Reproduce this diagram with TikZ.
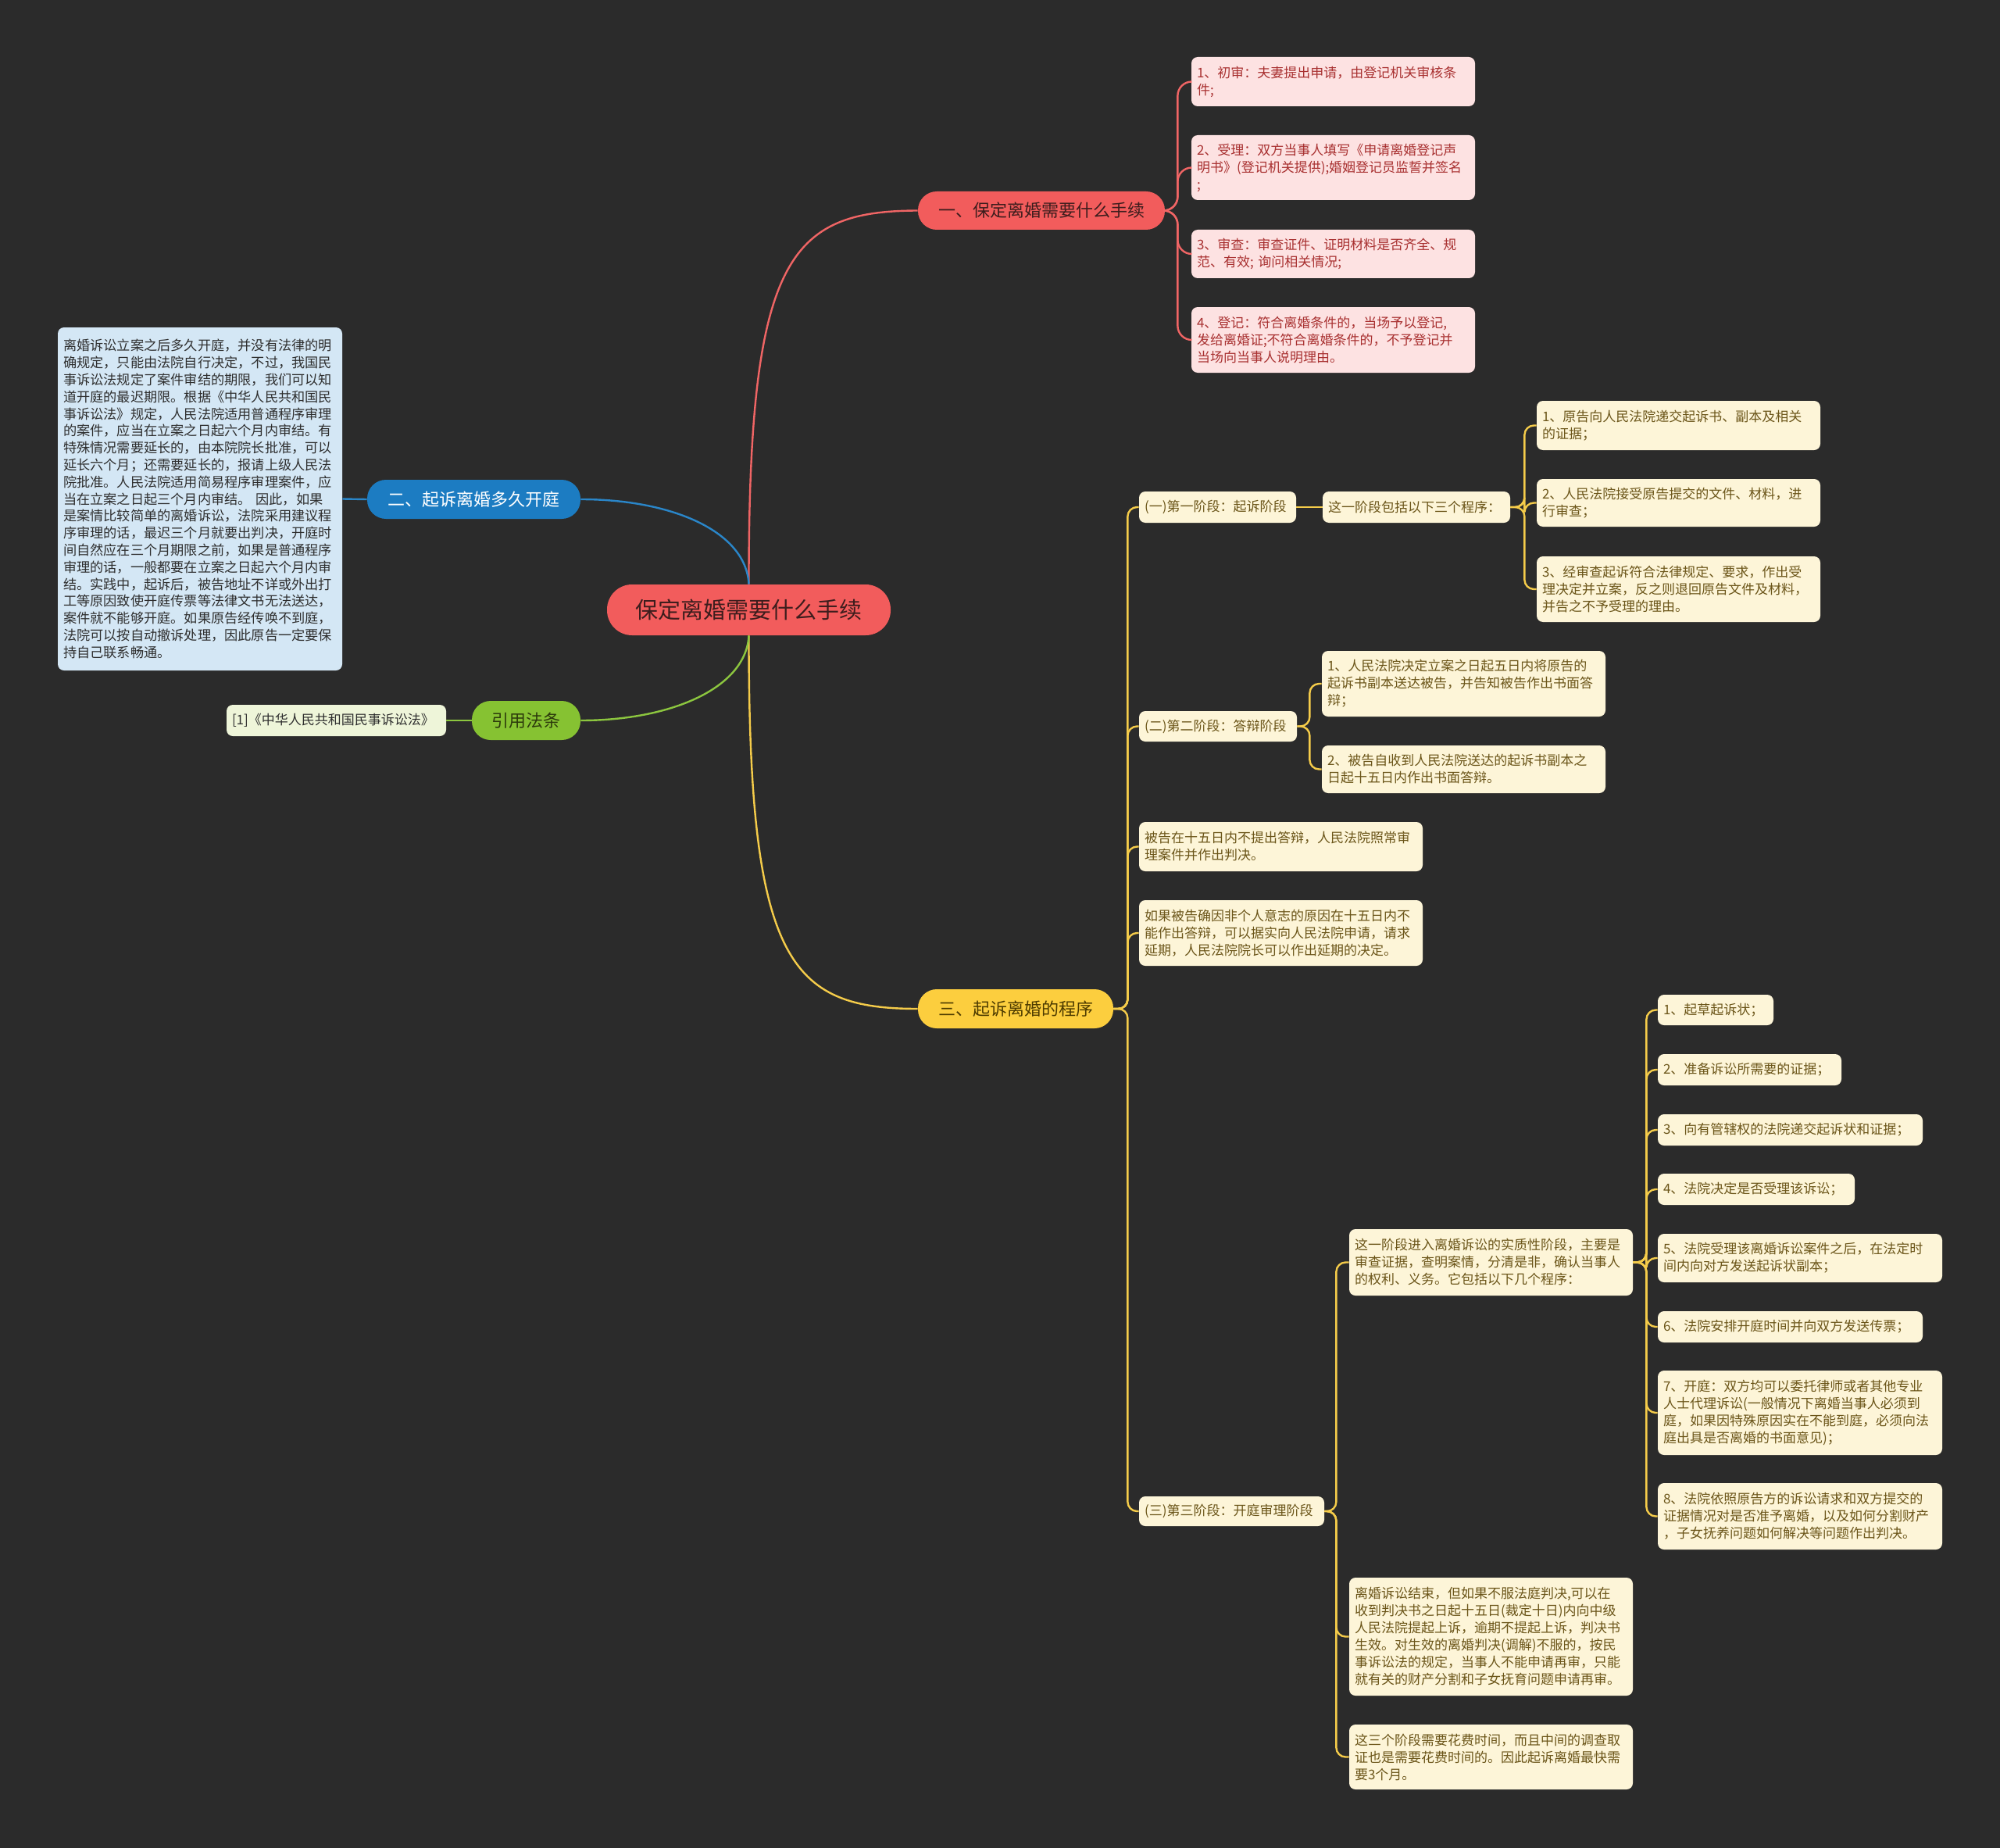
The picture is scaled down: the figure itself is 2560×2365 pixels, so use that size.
\documentclass[tikz,border=0pt]{standalone}
\usepackage{fontspec}
\setmainfont{Noto Sans CJK SC}
\setlength{\parindent}{0pt}
\definecolor{bgc}{HTML}{2B2B2B}
\definecolor{redc}{HTML}{F25C5C}
\definecolor{redl}{HTML}{F06565}
\definecolor{roottx}{HTML}{3D1D1D}
\definecolor{pinkc}{HTML}{FDE2E2}
\definecolor{pinktx}{HTML}{A83030}
\definecolor{bluec}{HTML}{1C7CC2}
\definecolor{bluel}{HTML}{2A86C9}
\definecolor{lbluec}{HTML}{D4E7F5}
\definecolor{darktx}{HTML}{2E2E2E}
\definecolor{greenc}{HTML}{86C232}
\definecolor{greenl}{HTML}{8CC63F}
\definecolor{greentx}{HTML}{2D3B0C}
\definecolor{lgreenc}{HTML}{EEF5D9}
\definecolor{yelc}{HTML}{FCCE3E}
\definecolor{yell}{HTML}{F5CC4A}
\definecolor{yeltx}{HTML}{4D3B00}
\definecolor{creamc}{HTML}{FDF5D8}
\definecolor{creamtx}{HTML}{6B5519}
\tikzset{
  pill/.style={inner xsep=0pt, inner ysep=0pt, align=center, font=\fontsize{11pt}{13pt}\selectfont},
  sbox/.style={rounded corners=4pt, inner xsep=3.5pt, inner ysep=0pt, align=left, font=\fontsize{8.5pt}{11pt}\selectfont},
  rootnode/.style={pill, rounded corners=16pt, fill=redc, text=roottx, font=\fontsize{14.5pt}{16pt}\selectfont},
  redpill/.style={pill, rounded corners=12pt, fill=redc, text=roottx},
  bluepill/.style={pill, rounded corners=12pt, fill=bluec, text=white},
  greenpill/.style={pill, rounded corners=12pt, fill=greenc, text=greentx},
  yelpill/.style={pill, rounded corners=12pt, fill=yelc, text=yeltx},
  pinkbox/.style={sbox, fill=pinkc, text=pinktx},
  bluebox/.style={sbox, fill=lbluec, text=darktx, font=\fontsize{8.6pt}{10.9pt}\selectfont},
  greenbox/.style={sbox, fill=lgreenc, text=darktx},
  creambox/.style={sbox, fill=creamc, text=creamtx},
  redline/.style={draw=redl, line width=1.2pt},
  blueline/.style={draw=bluel, line width=1.2pt},
  greenline/.style={draw=greenl, line width=1.2pt},
  yelline/.style={draw=yell, line width=1.2pt},
}
\newcommand\bx[7]{%
  \pgfmathsetmacro\bxw{(#5-#3)*0.5}%
  \pgfmathsetmacro\bxh{(#6-#4)*0.5}%
  \pgfmathsetmacro\bxt{(#5-#3)*0.5-7}%
  \pgfmathsetmacro\bxx{(#3+#5)/2}%
  \pgfmathsetmacro\bxy{(#4+#6)/2}%
  \node[#2, minimum width=\bxw pt, minimum height=\bxh pt, text width=\bxt pt] (#1) at (\bxx,\bxy) {#7};%
}
\begin{document}
\begin{tikzpicture}[x=0.5pt,y=-0.5pt]
\fill[bgc] (0,0) rectangle (2560,2365);
\useasboundingbox (0,0) rectangle (2560,2365);

% root and main branches
\bx{root}{rootnode}{777}{748}{1140}{813}{保定离婚需要什么手续}
\bx{B1}{redpill}{1175}{245}{1491}{294}{一、保定离婚需要什么手续}
\bx{B2}{bluepill}{470}{614}{743}{664}{二、起诉离婚多久开庭}
\bx{G}{greenpill}{604}{897}{743}{947}{引用法条}
\bx{B3}{yelpill}{1175}{1266}{1425}{1316}{三、起诉离婚的程序}

% branch 1 children
\bx{R1}{pinkbox}{1525}{73}{1888}{136}{1、初审：夫妻提出申请，由登记机关审核条\\件;}
\bx{R2}{pinkbox}{1525}{173}{1888}{256}{2、受理：双方当事人填写《申请离婚登记声\\明书》(登记机关提供);婚姻登记员监誓并签名\\;}
\bx{R3}{pinkbox}{1525}{294}{1888}{356}{3、审查：审查证件、证明材料是否齐全、规\\范、有效; 询问相关情况;}
\bx{R4}{pinkbox}{1525}{393}{1888}{477}{4、登记：符合离婚条件的，当场予以登记,\\发给离婚证;不符合离婚条件的，不予登记并\\当场向当事人说明理由。}

% branch 2 child
\bx{BT}{bluebox}{74}{419}{438}{858}{离婚诉讼立案之后多久开庭，并没有法律的明\\确规定，只能由法院自行决定，不过，我国民\\事诉讼法规定了案件审结的期限，我们可以知\\道开庭的最迟期限。根据《中华人民共和国民\\事诉讼法》规定，人民法院适用普通程序审理\\的案件，应当在立案之日起六个月内审结。有\\特殊情况需要延长的，由本院院长批准，可以\\延长六个月；还需要延长的，报请上级人民法\\院批准。人民法院适用简易程序审理案件，应\\当在立案之日起三个月内审结。 因此，如果\\是案情比较简单的离婚诉讼，法院采用建议程\\序审理的话，最迟三个月就要出判决，开庭时\\间自然应在三个月期限之前，如果是普通程序\\审理的话，一般都要在立案之日起六个月内审\\结。实践中，起诉后，被告地址不详或外出打\\工等原因致使开庭传票等法律文书无法送达，\\案件就不能够开庭。如果原告经传唤不到庭，\\法院可以按自动撤诉处理，因此原告一定要保\\持自己联系畅通。}

% green child
\bx{GT}{greenbox}{290}{902}{571}{942}{[1]《中华人民共和国民事诉讼法》}

% branch 3
\bx{S1}{creambox}{1458}{629}{1659}{669}{(一)第一阶段：起诉阶段}
\bx{S1a}{creambox}{1693}{629}{1933}{669}{这一阶段包括以下三个程序：}
\bx{S1a1}{creambox}{1967}{513}{2330}{576}{1、原告向人民法院递交起诉书、副本及相关\\的证据；}
\bx{S1a2}{creambox}{1967}{613}{2330}{674}{2、人民法院接受原告提交的文件、材料，进\\行审查；}
\bx{S1a3}{creambox}{1967}{712}{2330}{796}{3、经审查起诉符合法律规定、要求，作出受\\理决定并立案，反之则退回原告文件及材料，\\并告之不予受理的理由。}

\bx{S2}{creambox}{1458}{910}{1660}{949}{(二)第二阶段：答辩阶段}
\bx{S2a}{creambox}{1692}{833}{2055}{917}{1、人民法院决定立案之日起五日内将原告的\\起诉书副本送达被告，并告知被告作出书面答\\辩；}
\bx{S2b}{creambox}{1692}{954}{2055}{1015}{2、被告自收到人民法院送达的起诉书副本之\\日起十五日内作出书面答辩。}

\bx{N1}{creambox}{1458}{1052}{1821}{1115}{被告在十五日内不提出答辩，人民法院照常审\\理案件并作出判决。}
\bx{N2}{creambox}{1458}{1152}{1821}{1236}{如果被告确因非个人意志的原因在十五日内不\\能作出答辩，可以据实向人民法院申请，请求\\延期，人民法院院长可以作出延期的决定。}

\bx{S3}{creambox}{1458}{1915}{1695}{1953}{(三)第三阶段：开庭审理阶段}
\bx{I0}{creambox}{1727}{1573}{2090}{1658}{这一阶段进入离婚诉讼的实质性阶段，主要是\\审查证据，查明案情，分清是非，确认当事人\\的权利、义务。它包括以下几个程序：}
\bx{I1}{creambox}{2122}{1273}{2270}{1312}{1、起草起诉状；}
\bx{I2}{creambox}{2122}{1349}{2357}{1389}{2、准备诉讼所需要的证据；}
\bx{I3}{creambox}{2122}{1426}{2461}{1466}{3、向有管辖权的法院递交起诉状和证据；}
\bx{I4}{creambox}{2122}{1502}{2374}{1542}{4、法院决定是否受理该诉讼；}
\bx{I5}{creambox}{2122}{1579}{2486}{1641}{5、法院受理该离婚诉讼案件之后，在法定时\\间内向对方发送起诉状副本；}
\bx{I6}{creambox}{2122}{1678}{2461}{1718}{6、法院安排开庭时间并向双方发送传票；}
\bx{I7}{creambox}{2122}{1754}{2486}{1862}{7、开庭：双方均可以委托律师或者其他专业\\人士代理诉讼(一般情况下离婚当事人必须到\\庭，如果因特殊原因实在不能到庭，必须向法\\庭出具是否离婚的书面意见)；}
\bx{I8}{creambox}{2122}{1898}{2486}{1983}{8、法院依照原告方的诉讼请求和双方提交的\\证据情况对是否准予离婚，以及如何分割财产\\，子女抚养问题如何解决等问题作出判决。}
\bx{E1}{creambox}{1727}{2019}{2090}{2170}{离婚诉讼结束，但如果不服法庭判决,可以在\\收到判决书之日起十五日(裁定十日)内向中级\\人民法院提起上诉，逾期不提起上诉，判决书\\生效。对生效的离婚判决(调解)不服的，按民\\事诉讼法的规定，当事人不能申请再审，只能\\就有关的财产分割和子女抚育问题申请再审。}
\bx{E2}{creambox}{1727}{2207}{2090}{2290}{这三个阶段需要花费时间，而且中间的调查取\\证也是需要花费时间的。因此起诉离婚最快需\\要3个月。}

% main curves
\draw[redline] (root.north) .. controls (958,330) and (1010,270) .. (B1.west);
\draw[yelline] (root.south) .. controls (958,1230) and (1010,1291) .. (B3.west);
\draw[blueline] (root.north) .. controls (955,680) and (860,639) .. (B2.east);
\draw[greenline] (root.south) .. controls (955,880) and (860,922) .. (G.east);

% leaf connectors
\draw[blueline] (BT.east) -- (B2.west);
\draw[greenline] (GT.east) -- (G.west);
\foreach \n in {R1,R2,R3,R4}
  \draw[redline, rounded corners=9pt] (B1.east) -- ++(16,0) |- (\n.west);
\foreach \n in {S1,S2,N1,N2,S3}
  \draw[yelline, rounded corners=6pt] (B3.east) -- ++(18,0) |- (\n.west);
\draw[yelline] (S1.east) -- (S1a.west);
\foreach \n in {S1a1,S1a2,S1a3}
  \draw[yelline, rounded corners=6pt] (S1a.east) -- ++(18,0) |- (\n.west);
\foreach \n in {S2a,S2b}
  \draw[yelline, rounded corners=6pt] (S2.east) -- ++(16,0) |- (\n.west);
\foreach \n in {I0,E1,E2}
  \draw[yelline, rounded corners=6pt] (S3.east) -- ++(15,0) |- (\n.west);
\foreach \n in {I1,I2,I3,I4,I5,I6,I7,I8}
  \draw[yelline, rounded corners=6pt] (I0.east) -- ++(17,0) |- (\n.west);
\end{tikzpicture}
\end{document}
